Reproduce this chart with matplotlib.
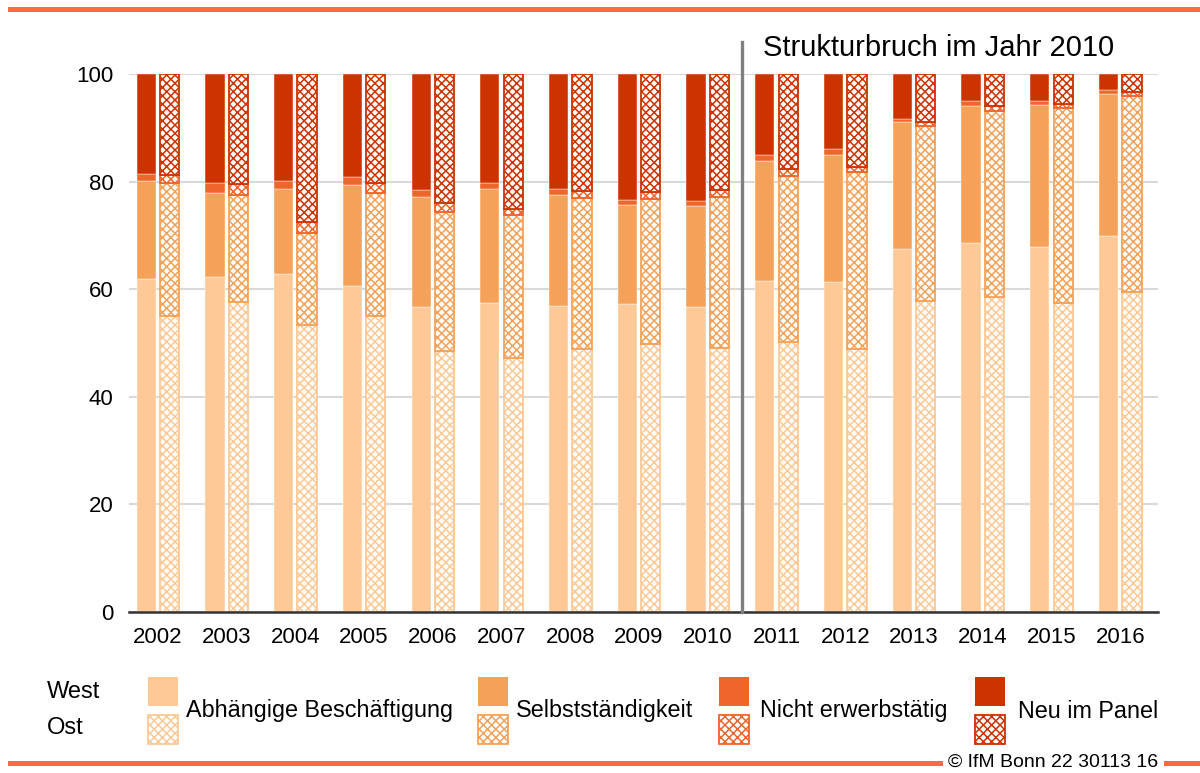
import matplotlib
matplotlib.use("Agg")
import matplotlib.pyplot as plt
import numpy as np
from matplotlib.patches import Rectangle
from matplotlib.lines import Line2D

plt.rcParams['font.family'] = ['Liberation Sans', 'DejaVu Sans']
plt.rcParams['hatch.linewidth'] = 1.1

years = [str(y) for y in range(2002, 2017)]
categories = ["Abhängige Beschäftigung", "Selbstständigkeit", "Nicht erwerbstätig", "Neu im Panel"]

# shares in percent, West
west_abh = [61.9, 62.3, 62.9, 60.6, 56.6, 57.4, 56.9, 57.2, 56.6, 61.6, 61.3, 67.5, 68.5, 67.8, 69.9]
west_selb = [18.2, 15.5, 15.7, 18.7, 20.6, 21.2, 20.7, 18.4, 18.9, 22.3, 23.6, 23.5, 25.6, 26.5, 26.4]
west_nicht = [1.4, 2.0, 1.5, 1.6, 1.2, 1.2, 1.0, 1.0, 0.9, 1.1, 1.2, 0.6, 0.8, 0.7, 0.7]
west_neu = [18.5, 20.2, 19.9, 19.1, 21.6, 20.2, 21.4, 23.4, 23.6, 15.0, 13.9, 8.4, 5.1, 5.0, 3.0]

# shares in percent, Ost
ost_abh = [55.1, 57.7, 53.3, 55.0, 48.6, 47.2, 48.9, 49.9, 49.0, 50.1, 48.9, 57.8, 58.6, 57.4, 59.5]
ost_selb = [24.6, 19.8, 17.1, 22.8, 25.7, 26.6, 28.0, 26.8, 28.1, 31.0, 32.8, 32.6, 34.6, 36.2, 36.5]
ost_nicht = [1.6, 2.0, 2.0, 1.9, 1.8, 1.2, 1.3, 1.3, 1.3, 1.2, 1.1, 0.6, 0.9, 0.8, 0.6]
ost_neu = [18.7, 20.5, 27.6, 20.3, 23.9, 25.0, 21.8, 22.0, 21.6, 17.7, 17.2, 9.0, 5.9, 5.6, 3.4]

colors = ['#FEC996', '#F4A259', '#F0652A', '#CC3300']
line_col = '#FF6A3A'

W, H = 1200, 773
fig = plt.figure(figsize=(W / 100, H / 100), dpi=100)

def fx(px):
    return px / W

def fy(py):
    return 1 - py / H

ax = fig.add_axes([fx(129), fy(612), fx(1158) - fx(129), fy(74) - fy(612)])

x = np.arange(len(years))
bw = 0.28
off = 0.17

west = [west_abh, west_selb, west_nicht, west_neu]
ost = [ost_abh, ost_selb, ost_nicht, ost_neu]

bottom = np.zeros(len(years))
for vals, c in zip(west, colors):
    ax.bar(x - off, vals, bw, bottom=bottom, color=c, edgecolor='white', linewidth=0.3, zorder=3)
    bottom += np.array(vals)

bottom = np.zeros(len(years))
for vals, c in zip(ost, colors):
    ax.bar(x + off, vals, bw, bottom=bottom, facecolor='white', edgecolor=c,
           hatch='xxxx', linewidth=1.3, zorder=3)
    bottom += np.array(vals)

ax.set_xlim(-0.42, 14.55)
ax.set_ylim(0, 100)
ax.set_yticks([0, 20, 40, 60, 80, 100])
ax.set_xticks(x)
ax.set_xticklabels(years)
ax.tick_params(axis='both', length=0, labelsize=16, colors='black')
ax.tick_params(axis='y', pad=11)
ax.tick_params(axis='x', pad=11)
ax.grid(axis='y', color='#D9D9D9', linewidth=1.5, zorder=0)
for s in ['left', 'right', 'top']:
    ax.spines[s].set_visible(False)
ax.spines['bottom'].set_color('#333333')
ax.spines['bottom'].set_linewidth(1.8)
ax.spines['bottom'].set_zorder(4)

# structural break
ax.plot([8.5, 8.5], [0, 106], color='#808080', linewidth=2.4, clip_on=False, zorder=5)
ax.text(8.81, 104.8, "Strukturbruch im Jahr 2010", fontsize=21, va='center', ha='left')

# legend
fig.text(fx(47), fy(692), "West", fontsize=17, va='center', ha='left')
fig.text(fx(47), fy(728), "Ost", fontsize=17, va='center', ha='left')
patch_x = [148, 478, 719, 975]
text_x = [186, 516, 760, 1018]
for px, tx, c, lab in zip(patch_x, text_x, colors, categories):
    fig.add_artist(Rectangle((fx(px), fy(706)), 30 / W, 29 / H, transform=fig.transFigure,
                             facecolor=c, edgecolor='none'))
    fig.add_artist(Rectangle((fx(px), fy(744)), 30 / W, 29 / H, transform=fig.transFigure,
                             facecolor='white', edgecolor=c, hatch='xxxx', linewidth=1.3))
    fig.text(fx(tx), fy(711), lab, fontsize=16.8, va='center', ha='left')

# decorative lines
fig.add_artist(Line2D([fx(10), 1], [fy(9), fy(9)], color=line_col, linewidth=3.6))
fig.add_artist(Line2D([fx(10), fx(940)], [fy(763), fy(763)], color=line_col, linewidth=3.6))
fig.add_artist(Line2D([fx(1166), 1], [fy(763), fy(763)], color=line_col, linewidth=3.6))
fig.text(fx(1053), fy(762), "© IfM Bonn 22 30113 16", fontsize=14, va='center', ha='center')

fig.savefig("out.png", dpi=100)
